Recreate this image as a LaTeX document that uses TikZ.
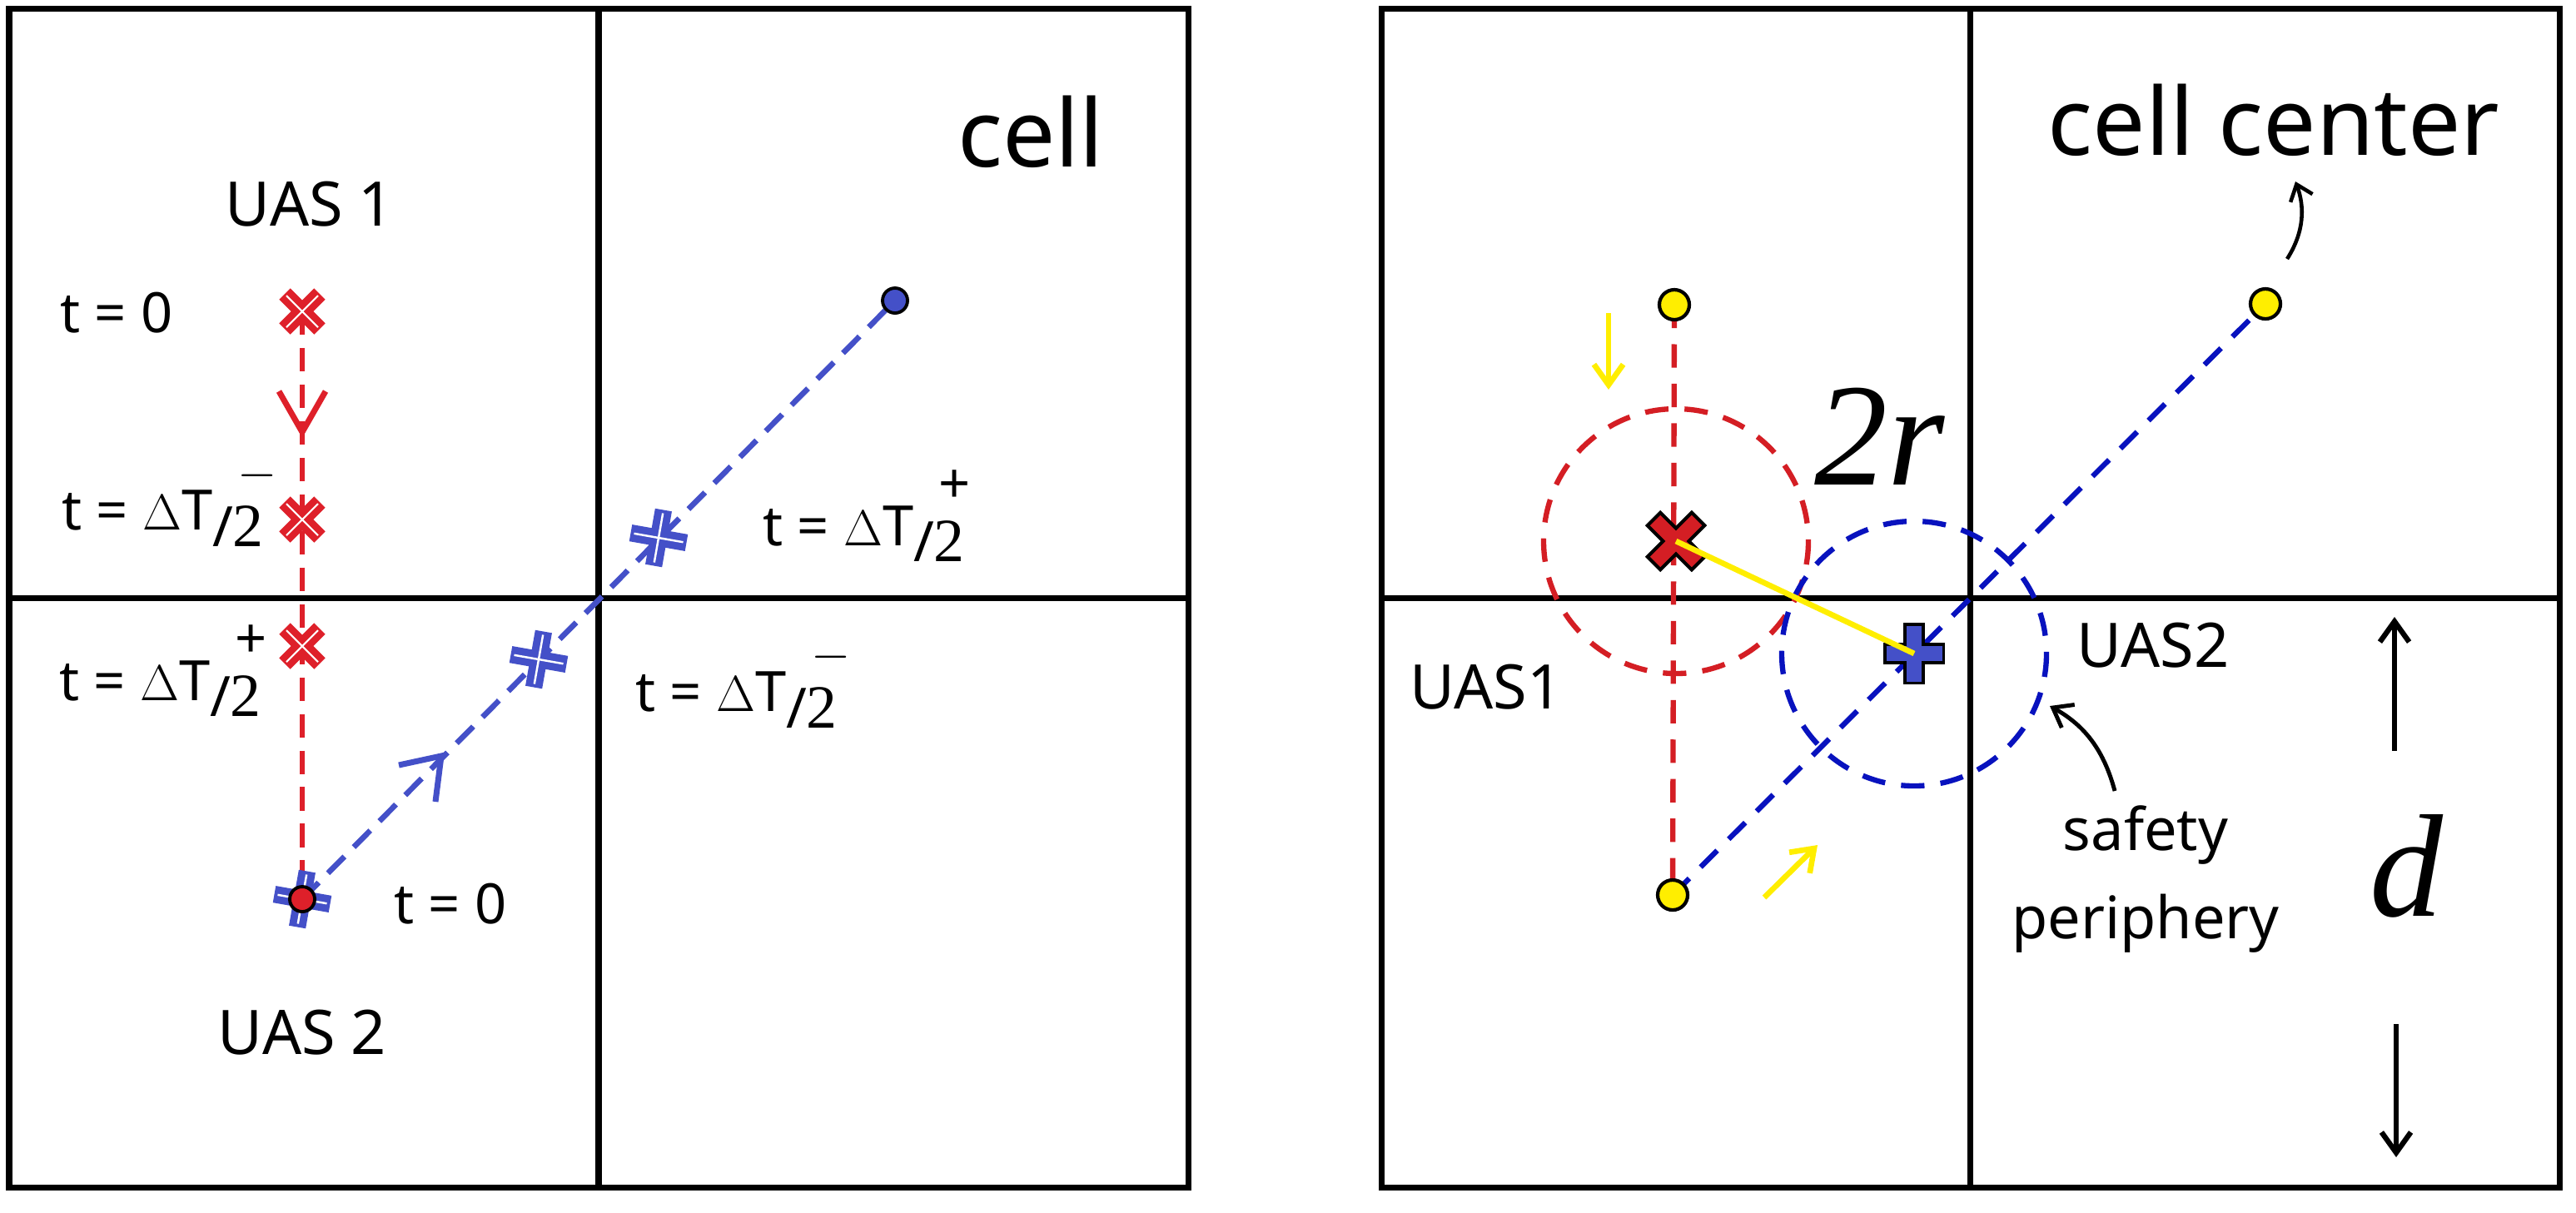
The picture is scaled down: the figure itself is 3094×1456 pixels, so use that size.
\documentclass[tikz,border=0pt]{standalone}
\usepackage{fontspec}
\setmainfont{Noto Sans}
\newfontfamily\timesfont{Liberation Serif}
\usepackage{tikz}
\usetikzlibrary{arrows.meta}

\definecolor{uasred}{RGB}{222,32,42}
\definecolor{uasblue}{RGB}{68,80,200}
\definecolor{darkred}{RGB}{212,30,36}
\definecolor{darkblue}{RGB}{8,18,190}
\definecolor{cellyellow}{RGB}{255,238,0}

% t = Delta T/2 with a sign above the 2
\newcommand{\halft}[1]{t = $\Delta$T\raisebox{-0.55ex}{/\kern-0.02em{\timesfont\fontsize{21}{23}\selectfont 2}}\kern-0.45em\raisebox{1.4ex}{#1}}

\begin{document}
\begin{tikzpicture}[x=0.01cm,y=-0.01cm,
    gridline/.style={line width=2pt},
    reddash/.style={uasred,line width=1.9pt,dash pattern=on 8pt off 4.5pt},
    bluedash/.style={uasblue,line width=1.9pt,dash pattern=on 8pt off 4.5pt},
    lbl/.style={font=\fontsize{19}{23}\selectfont},
    uas/.style={font=\fontsize{21}{25}\selectfont},
    title/.style={font=\fontsize{32}{38}\selectfont},
    sym/.style={font=\fontsize{50}{54}\selectfont\timesfont\itshape},
    barb/.style={-{Straight Barb[length=7pt,width=10pt]}},
    xmark/.pic={
        \draw[uasred,line width=5.4pt] (-21,-21)--(21,21) (-21,21)--(21,-21);
        \draw[white,line width=0.6pt] (-19,-19)--(19,19) (-19,19)--(19,-19);},
    pmark/.pic={
        \begin{scope}[rotate=-10]
        \draw[uasblue,line width=5.8pt] (-34,0)--(34,0) (0,-34)--(0,34);
        \draw[white,line width=0.7pt] (-30,0)--(30,0) (0,-30)--(0,30);
        \end{scope}},
    bigx/.pic={
        \draw[black,line width=7.4pt] (-28,-28)--(28,28) (-28,28)--(28,-28);
        \draw[darkred,line width=5pt] (-25,-25)--(25,25) (-25,25)--(25,-25);},
    bigp/.pic={
        \draw[black,line width=7.4pt] (-37,0)--(37,0) (0,-37)--(0,37);
        \draw[uasblue,line width=5pt] (-33.5,0)--(33.5,0) (0,-33.5)--(0,33.5);}
]
\useasboundingbox (0,0) rectangle (3094,1456);

% left panel
\draw[gridline] (11,10) rectangle (1427,1426);
\draw[gridline] (719,10) -- (719,1426) (11,718) -- (1427,718);

\coordinate (a0) at (363,374);
\coordinate (a1) at (363,624);
\coordinate (a2) at (363,776);
\coordinate (start) at (363,1080);
\coordinate (b1) at (647,792);
\coordinate (b2) at (791,646);
\coordinate (goal) at (1075,361);
\coordinate (redtip) at (363,519);
\coordinate (bluetip) at (530,908);

\draw[reddash] (a0) -- (start);
\draw[bluedash] (start) -- (goal);
\draw[uasred,line width=2pt] (redtip)+(-28,-49) -- (redtip) -- +(28,-49);
\draw[uasblue,line width=2pt] (bluetip)+(-51,11) -- (bluetip) -- +(-7,55);

\pic at (a0) {xmark};
\pic at (a1) {xmark};
\pic at (a2) {xmark};
\pic at (b1) {pmark};
\pic at (b2) {pmark};
\pic at (start) {pmark};
\draw[black,line width=1.1pt,fill=uasred] (start) circle[radius=15];
\draw[black,line width=1.1pt,fill=uasblue] (goal) circle[radius=15];

\node[title] (cell) at (1238,158) {cell};
\node[uas] (uas1) at (372,245) {UAS 1};
\node[uas] (uas2) at (363,1240) {UAS 2};
\node[lbl] (t0a) at (140,376) {t = 0};
\node[lbl,anchor=west] (t1a) at (62,604) {\halft{$-$}};
\node[lbl,anchor=west] (t2a) at (59,806) {\halft{+}};
\node[lbl,anchor=west] (t1b) at (904,620) {\halft{+}};
\node[lbl,anchor=west] (t2b) at (751,822) {\halft{$-$}};
\node[lbl] (t0b) at (541,1086) {t = 0};

% right panel
\draw[gridline] (1659,10) rectangle (3074,1426);
\draw[gridline] (2366,10) -- (2366,1426) (1659,718) -- (3074,718);

\coordinate (c1) at (2011,366);
\coordinate (c2) at (2721,365);
\coordinate (c3) at (2009,1075);
\coordinate (ux) at (2013,650);
\coordinate (up) at (2299,785);

\draw[darkred,line width=1.8pt,dash pattern=on 8pt off 5.5pt] (c1) -- (c3);
\draw[darkblue,line width=1.8pt,dash pattern=on 8pt off 5.5pt] (c3) -- (c2);
\draw[darkred,line width=1.8pt,dash pattern=on 8pt off 5.5pt] (ux) circle[radius=159];
\draw[darkblue,line width=1.8pt,dash pattern=on 8pt off 5.5pt] (up) circle[radius=159];

\foreach \c in {c1,c2,c3}
    \draw[black,line width=1.2pt,fill=cellyellow] (\c) circle[radius=18];

\pic at (ux) {bigx};
\pic at (up) {bigp};
\draw[cellyellow,line width=1.9pt] (ux) -- (up);

\coordinate (ya) at (1932,376);
\coordinate (yb) at (1932,468);
\coordinate (yc) at (2119,1078);
\coordinate (yd) at (2183,1015);
\draw[cellyellow,line width=1.9pt,barb] (ya) -- (yb);
\draw[cellyellow,line width=1.9pt,barb] (yc) -- (yd);

\node[title] (center) at (2731,144) {cell center};
\coordinate (cc) at (2747,311);
\draw[line width=1.3pt,-{Straight Barb[length=5pt,width=8pt]}] (cc) .. controls (2768,278) and (2768,248) .. (2757,218);

\node[sym] (tworad) at (2258,524) {2r};
\node[uas] (uasa) at (1785,825) {UAS1};
\node[uas] (uasb) at (2586,775) {UAS2};
\node[lbl,align=center,font=\fontsize{20}{30}\selectfont] (safe) at (2577,1056) {safety\\periphery};
\coordinate (st) at (2540,950);
\draw[line width=1.4pt,-{Straight Barb[length=6pt,width=9pt]}] (st) .. controls (2527,902) and (2505,872) .. (2462,848);

\node[sym] (dist) at (2890,1040) {d};
\coordinate (da) at (2876,902);
\coordinate (db) at (2878,1230);
\draw[line width=1.8pt,barb] (da) -- (2876,741);
\draw[line width=1.8pt,barb] (db) -- (2878,1390);
\end{tikzpicture}
\end{document}
